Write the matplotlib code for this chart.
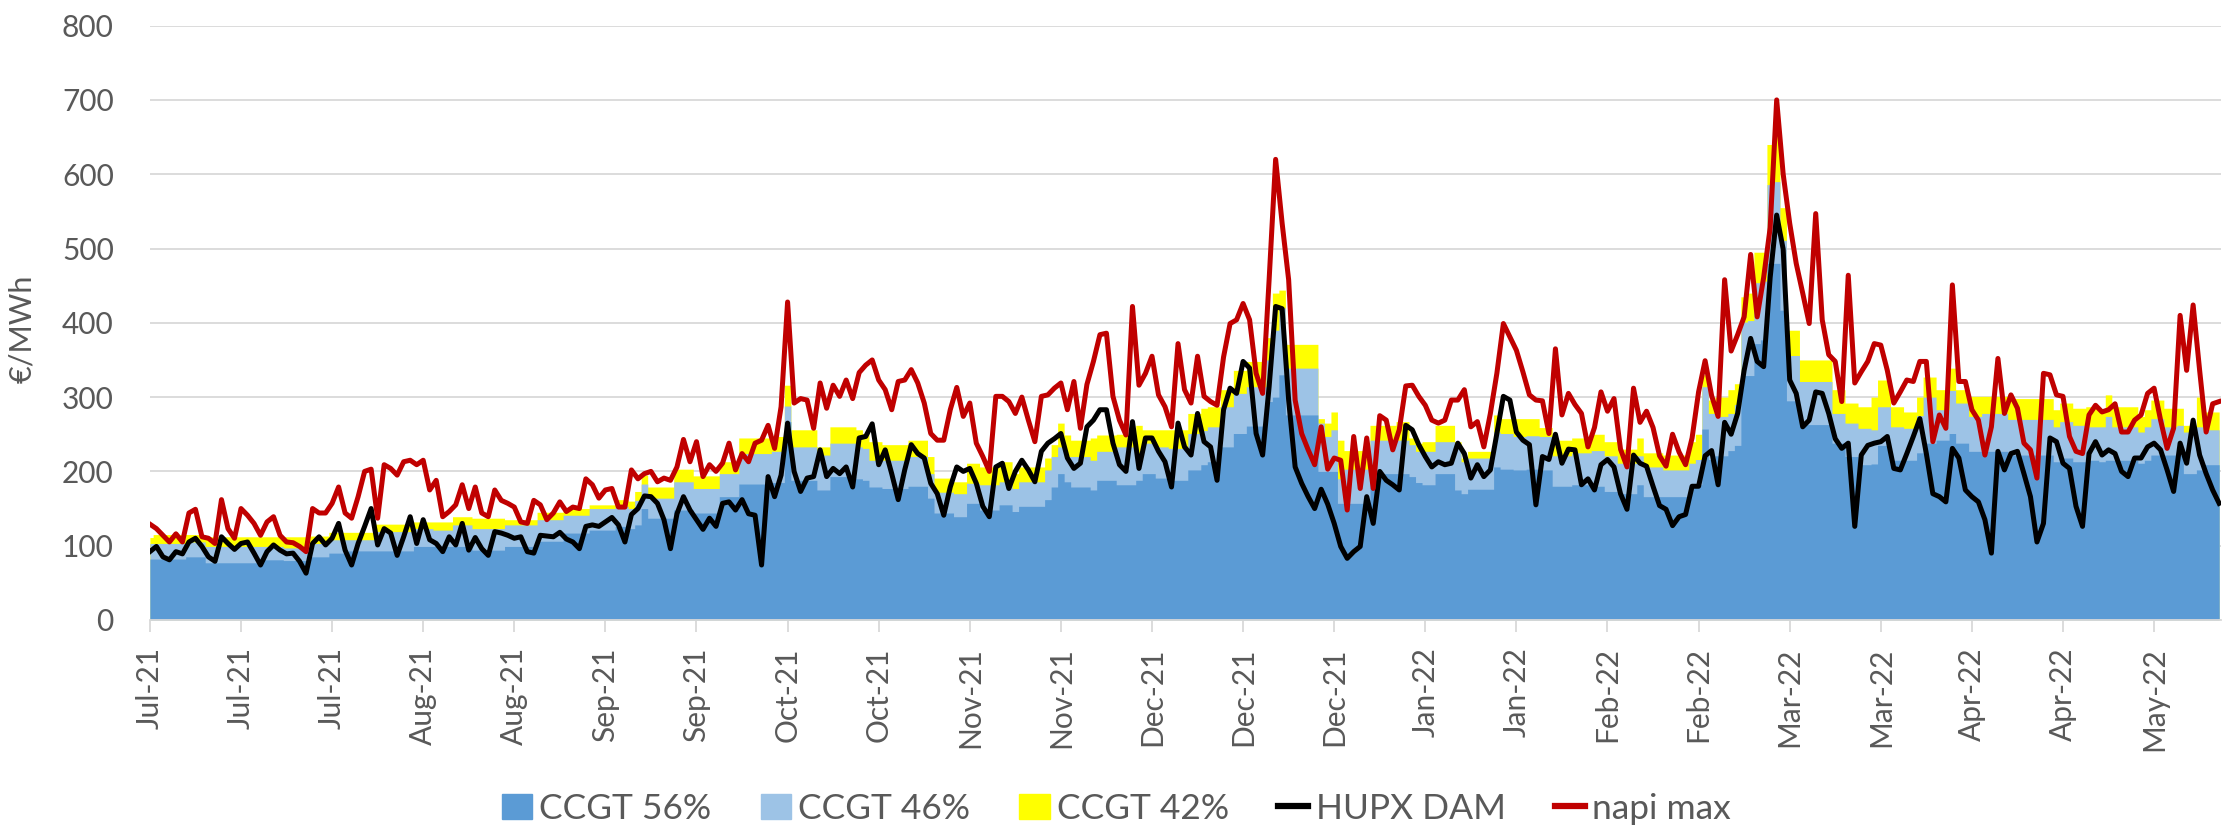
import numpy as np
import matplotlib
matplotlib.use("Agg")
import matplotlib.pyplot as plt
import matplotlib.dates as mdates
from matplotlib.patches import Patch
from matplotlib.lines import Line2D
import datetime as dt

# ---------------- data (daily, from 2021-07-01) ----------------
start_date = dt.date(2021, 7, 1)

napi_max = [
    129, 123, 114, 105, 116, 105, 144, 149, 112, 110,
    103, 162, 123, 110, 150, 141, 130, 114, 132, 139,
    114, 105, 104, 99, 92, 150, 144, 144, 157, 179,
    144, 137, 166, 200, 203, 137, 209, 204, 195, 213,
    215, 209, 215, 175, 188, 139, 146, 155, 182, 150,
    179, 144, 139, 175, 161, 157, 152, 132, 130, 161,
    155, 135, 144, 159, 146, 152, 150, 190, 182, 164,
    175, 177, 152, 152, 202, 190, 197, 200, 186, 191,
    188, 206, 243, 213, 240, 193, 209, 200, 211, 238,
    202, 224, 213, 238, 242, 262, 231, 287, 428, 292,
    298, 296, 258, 319, 285, 316, 301, 323, 298, 333,
    343, 350, 323, 310, 283, 321, 323, 337, 319, 292,
    251, 242, 242, 283, 313, 274, 292, 238, 220, 200,
    301, 301, 294, 278, 300, 269, 240, 301, 303, 312,
    319, 283, 321, 258, 317, 348, 384, 386, 301, 269,
    249, 422, 316, 332, 355, 303, 287, 260, 372, 310,
    292, 355, 301, 294, 289, 354, 399, 404, 426, 404,
    332, 305, 458, 620, 534, 458, 296, 251, 229, 209,
    260, 203, 218, 215, 148, 247, 177, 245, 177, 275,
    269, 229, 256, 315, 316, 301, 289, 269, 265, 269,
    296, 296, 310, 260, 267, 233, 278, 332, 399, 381,
    363, 334, 303, 296, 295, 251, 365, 276, 305, 290,
    278, 233, 259, 307, 281, 298, 230, 206, 312, 266,
    281, 259, 221, 207, 250, 226, 209, 245, 307, 349,
    302, 274, 458, 362, 384, 408, 492, 408, 461, 528,
    700, 600, 534, 480, 440, 399, 547, 404, 357, 348,
    294, 464, 319, 334, 348, 372, 370, 336, 292, 307,
    323, 321, 348, 348, 240, 276, 258, 451, 321, 321,
    283, 269, 222, 260, 352, 278, 303, 285, 238, 229,
    191, 332, 330, 303, 301, 247, 227, 224, 276, 289,
    280, 283, 291, 253, 253, 269, 276, 305, 312, 269,
    231, 258, 410, 336, 424, 336, 253, 291, 294,
]

hupx_dam = [
    92, 99, 85, 81, 92, 89, 105, 110, 99, 85,
    79, 112, 103, 95, 103, 105, 90, 74, 92, 101,
    94, 89, 90, 79, 63, 103, 112, 101, 110, 130,
    94, 74, 103, 126, 150, 101, 123, 117, 87, 112,
    139, 103, 135, 108, 103, 92, 112, 101, 130, 94,
    111, 96, 87, 119, 117, 114, 110, 112, 92, 90,
    114, 113, 112, 118, 109, 105, 96, 126, 128, 126,
    132, 138, 128, 105, 142, 150, 167, 166, 157, 135,
    96, 143, 166, 148, 135, 122, 137, 126, 157, 159,
    148, 162, 143, 141, 74, 193, 166, 195, 265, 200,
    173, 191, 193, 229, 193, 204, 197, 206, 179, 245,
    247, 264, 209, 229, 197, 162, 202, 236, 224, 218,
    184, 170, 141, 179, 206, 200, 204, 184, 153, 139,
    206, 211, 177, 200, 215, 202, 186, 227, 238, 244,
    251, 218, 204, 211, 260, 269, 283, 283, 238, 209,
    200, 267, 204, 245, 245, 227, 213, 179, 265, 233,
    222, 278, 240, 233, 188, 283, 312, 305, 348, 339,
    251, 222, 314, 422, 419, 296, 206, 184, 166, 150,
    176, 156, 130, 99, 83, 92, 99, 166, 130, 200,
    188, 182, 175, 262, 256, 236, 220, 206, 213, 209,
    211, 238, 224, 191, 209, 193, 202, 251, 301, 296,
    253, 242, 236, 155, 220, 216, 250, 211, 230, 229,
    182, 190, 175, 209, 216, 206, 170, 149, 222, 211,
    207, 180, 154, 149, 127, 139, 142, 180, 180, 221,
    228, 182, 266, 250, 278, 336, 379, 348, 341, 461,
    545, 499, 323, 305, 260, 269, 307, 305, 278, 244,
    231, 238, 126, 222, 235, 238, 240, 247, 204, 202,
    224, 247, 271, 224, 170, 166, 159, 231, 218, 175,
    166, 159, 135, 90, 227, 202, 224, 227, 197, 166,
    105, 130, 245, 240, 211, 204, 153, 126, 224, 240,
    222, 229, 224, 200, 193, 218, 218, 233, 238, 229,
    202, 173, 238, 211, 269, 222, 197, 175, 157,
]

# CCGT cost levels (flat over weekends, hence repeated values)
ccgt56 = ([82]*6 + [85]*3 + [77]*8 + [81]*4 + [80]*4 + [85]*3 + [90]*3 + [93]*4
          + [93]*6 + [99]*3 + [99]*3 + [99]*3 + [94]*5 + [99]*5 + [106]*4 + [117]*4
          + [121]*4 + [126]*2 + [123] + [128] + [150] + [137]*4 + [148]*3 + [144]*4
          + [166]*3 + [183]*5 + [185]*2 + [267] + [188]*4 + [175]*2 + [193]*4 + [190]
          + [188] + [179]*2 + [177]*4 + [180]*3 + [164] + [144]*3 + [139]*2 + [157]*2
          + [148]*3 + [155]*2 + [146] + [153]*4 + [162] + [179] + [197] + [186]
          + [179]*3 + [175] + [188]*3 + [182]*3 + [188] + [197]*2 + [191]*2 + [188]*3
          + [202]*2 + [209] + [213]*2 + [233]*2 + [251]*2 + [261]*3 + [294] + [300]
          + [330] + [276]*5 + [200]*3 + [157] + [157]*4 + [197]*6 + [193] + [185]
          + [182]*2 + [197]*3 + [175] + [170] + [176]*4 + [206] + [203]*2 + [202]*2
          + [203]*2 + [202]*2 + [180]*3 + [182]*3 + [180]*2 + [173]*2 + [170]*3 + [182]
          + [166]*3 + [166]*4 + [180] + [182] + [257] + [216] + [221]*2 + [228] + [235]
          + [329]*2 + [372] + [377] + [480] + [480] + [417] + [295]*2 + [263]*5
          + [238]*2 + [220]*2 + [209]*2 + [210] + [235]*2 + [215]*4 + [225] + [238]*2
          + [242]*2 + [251] + [238]*2 + [227]*6 + [222]*7 + [213] + [218]*2 + [213]*2
          + [215]*2 + [213] + [215]*5 + [211] + [215] + [222]*5 + [197]*2 + [202]
          + [209]*3)

ccgt46 = ([103]*6 + [105]*3 + [99]*12 + [97]*4 + [103]*3 + [108]*7 + [119]*6
          + [123]*3 + [121]*3 + [128]*3 + [123]*5 + [128]*5 + [135]*4 + [141]*4
          + [150]*4 + [153]*2 + [150] + [161] + [183] + [164]*4 + [186]*3 + [177]*4
          + [197]*3 + [224]*5 + [227]*2 + [288] + [233]*4 + [222]*2 + [238]*4 + [233]
          + [231] + [215]*2 + [215]*4 + [220]*3 + [197] + [172]*3 + [170]*2 + [184]*2
          + [182]*3 + [186]*2 + [177] + [186]*4 + [202] + [220] + [233] + [220]
          + [220]*3 + [215] + [227]*3 + [233]*3 + [224] + [238]*2 + [233]*2 + [231]*3
          + [251]*2 + [255] + [260]*2 + [287]*2 + [305]*2 + [314]*3 + [350] + [390]
          + [420] + [339]*5 + [265] + [247] + [256] + [190] + [203]*4 + [242]*6 + [236]
          + [227] + [227]*2 + [240]*3 + [233] + [213] + [218]*4 + [253] + [251]*2
          + [247]*2 + [248]*2 + [247]*2 + [221]*3 + [225]*3 + [228]*2 + [221]*2
          + [211]*3 + [221] + [206]*3 + [202]*4 + [211] + [216] + [314] + [278]
          + [274]*2 + [278] + [290] + [401] + [403] + [454] + [456] + [586] + [590]
          + [511] + [356]*2 + [321]*5 + [278]*2 + [265]*2 + [258]*2 + [256] + [287]*2
          + [260]*2 + [258]*2 + [275] + [300]*2 + [283]*2 + [309] + [292]*2 + [274]*2
          + [278]*4 + [270]*7 + [260] + [267]*2 + [262]*2 + [260]*3 + [274] + [260]*4
          + [253] + [260] + [271]*2 + [260]*2 + [262] + [253]*2 + [260] + [256]*3)

ccgt42 = ([111] + [115]*8 + [112]*16 + [113]*3 + [118]*7 + [129]*6 + [132]*6
          + [139]*3 + [137]*5 + [135]*5 + [145]*4 + [150]*4 + [155]*4 + [162]*2
          + [160] + [173] + [195] + [179]*4 + [203]*3 + [194]*4 + [213]*3 + [245]*5
          + [247]*2 + [316] + [256]*4 + [233]*2 + [260]*4 + [256] + [251] + [240]*2
          + [236]*4 + [242]*3 + [220] + [191]*3 + [186]*2 + [211]*2 + [206]*3
          + [213]*2 + [197] + [206]*4 + [218] + [236] + [265] + [249] + [242]*3
          + [245] + [249]*3 + [250]*3 + [262] + [256]*7 + [278]*2 + [285] + [287]*2
          + [310]*2 + [336]*2 + [348]*3 + [380] + [440] + [444] + [371]*5 + [271]
          + [265] + [280] + [242] + [228]*4 + [262]*4 + [267]*2 + [245] + [238]
          + [240]*2 + [262]*3 + [240] + [218] + [227]*4 + [276] + [271]*6 + [259]*2
          + [242]*3 + [245]*3 + [250]*2 + [240]*2 + [230]*3 + [245] + [225]*3
          + [222]*4 + [240] + [250] + [330] + [296] + [300]*2 + [310] + [318] + [435]
          + [440] + [495]*2 + [640] + [660] + [555] + [390]*2 + [350]*5 + [310]*2
          + [292]*2 + [287]*2 + [300] + [323]*2 + [287]*2 + [280]*2 + [300] + [327]*2
          + [310]*2 + [339] + [310]*2 + [301]*6 + [298]*7 + [283] + [292]*2 + [285]*2
          + [287]*2 + [280] + [303] + [287]*4 + [274] + [283] + [296]*2 + [285]*3
          + [262]*2 + [300] + [280]*3)

series_labels = ["CCGT 56%", "CCGT 46%", "CCGT 42%", "HUPX DAM", "napi max"]
y_ticks = [0, 100, 200, 300, 400, 500, 600, 700, 800]
y_label = "€/MWh"

n = len(napi_max)
for name, s in [("hupx", hupx_dam), ("c56", ccgt56), ("c46", ccgt46), ("c42", ccgt42)]:
    if len(s) != n:
        raise SystemExit(f"length mismatch {name}: {len(s)} vs {n}")

# ---------------- plot ----------------
plt.rcParams['font.family'] = ['Lato', 'DejaVu Sans']
txt = '#595959'
c_dark, c_light, c_yel = '#5B9BD5', '#9DC3E6', '#FFFF00'

x0 = mdates.date2num(start_date)
x = x0 + np.arange(n)

fig = plt.figure(figsize=(22.24, 8.26), dpi=100)
ax = fig.add_axes([0.0674, 0.2494, 0.9313, 0.7196])

ax.fill_between(x, 0, ccgt42, step='mid', color=c_yel, lw=0, zorder=2)
ax.fill_between(x, 0, ccgt46, step='mid', color=c_light, lw=0, zorder=3)
ax.fill_between(x, 0, ccgt56, step='mid', color=c_dark, lw=0, zorder=4)
ax.plot(x, hupx_dam, color='black', lw=3.6, zorder=5, solid_joinstyle='round')
ax.plot(x, napi_max, color='#C00000', lw=3.6, zorder=6, solid_joinstyle='round')

ax.set_ylim(0, 800)
ax.set_xlim(x0, x0 + 318.3)
ax.set_yticks(y_ticks)
ax.set_yticklabels([str(v) for v in y_ticks])
ax.grid(axis='y', color='#d9d9d9', lw=1.3, zorder=0)
ax.set_axisbelow(True)

tick_pos = x0 + np.arange(0, n, 14)
ax.set_xticks(tick_pos)
ax.set_xticklabels([mdates.num2date(t).strftime('%b-%y') for t in tick_pos],
                   rotation=90, fontsize=21.5, color=txt)
ax.tick_params(axis='x', length=8.6, width=1.3, color='#d9d9d9', pad=11)
ax.tick_params(axis='y', length=0, pad=26, labelsize=21.5, labelcolor=txt)

for s in ['top', 'right', 'left']:
    ax.spines[s].set_visible(False)
ax.spines['bottom'].set_color('#d9d9d9')
ax.spines['bottom'].set_linewidth(1.3)
ax.spines['bottom'].set_zorder(7)

fig.text(22 / 2224, 0.6017, y_label, rotation=90, ha='center', va='center',
         fontsize=22, color=txt)

handles = [Patch(color=c_dark), Patch(color=c_light), Patch(color=c_yel),
           Line2D([], [], color='black', lw=4.5), Line2D([], [], color='#C00000', lw=4.5)]
fig.legend(handles, series_labels, loc='center', bbox_to_anchor=(0.502, 0.021),
           ncol=5, frameon=False, fontsize=25.5, handlelength=0.85, handletextpad=0.2,
           columnspacing=1.4, labelcolor=txt)

fig.savefig('out.png', dpi=100)
